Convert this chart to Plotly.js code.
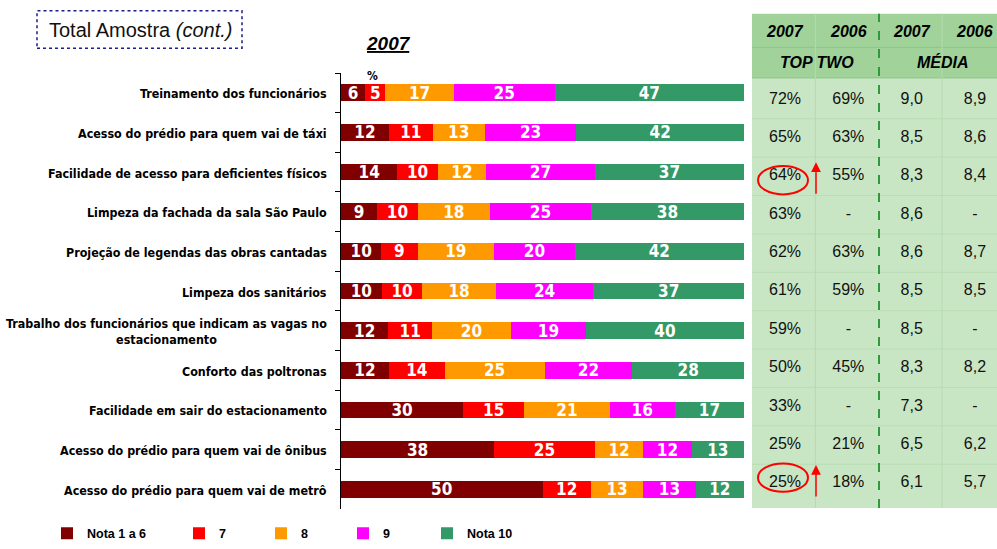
<!DOCTYPE html>
<html>
<head>
<meta charset="utf-8">
<script src="https://cdn.plot.ly/plotly-3.0.1.min.js"></script>
<style>html,body{margin:0;padding:0;background:#fff;}#chart{width:997px;height:549px;}</style>
</head>
<body>
<div id="chart"></div>
<script>
// ---- data ----
const categories = [
  "Treinamento dos funcionários",
  "Acesso do prédio para quem vai de táxi",
  "Facilidade de acesso para deficientes físicos",
  "Limpeza da fachada da sala São Paulo",
  "Projeção de legendas das obras cantadas",
  "Limpeza dos sanitários",
  "Trabalho dos funcionários que indicam as vagas no<br>estacionamento",
  "Conforto das poltronas",
  "Facilidade em sair do estacionamento",
  "Acesso do prédio para quem vai de ônibus",
  "Acesso do prédio para quem vai de metrô"
];
const seriesNames = ["Nota 1 a 6", "7", "8", "9", "Nota 10"];
const nota1a6 = [6, 12, 14, 9, 10, 10, 12, 12, 30, 38, 50];
const nota7   = [5, 11, 10, 10, 9, 10, 11, 14, 15, 25, 12];
const nota8   = [17, 13, 12, 18, 19, 18, 20, 25, 21, 12, 13];
const nota9   = [25, 23, 27, 25, 20, 24, 19, 22, 16, 12, 13];
const nota10  = [47, 42, 37, 38, 42, 37, 40, 28, 17, 13, 12];

const tableHeaderYears = ["2007", "2006", "2007", "2006"];
const tableHeaderGroups = ["TOP TWO", "MÉDIA"];
const topTwo2007 = ["72%", "65%", "64%", "63%", "62%", "61%", "59%", "50%", "33%", "25%", "25%"];
const topTwo2006 = ["69%", "63%", "55%", "-", "63%", "59%", "-", "45%", "-", "21%", "18%"];
const media2007  = ["9,0", "8,5", "8,3", "8,6", "8,6", "8,5", "8,5", "8,3", "7,3", "6,5", "6,1"];
const media2006  = ["8,9", "8,6", "8,4", "-", "8,7", "8,5", "-", "8,2", "-", "6,2", "5,7"];
const highlightRows = [2, 10];

// ---- styles ----
const colors = ["#800000", "#ff0000", "#ff9900", "#ff00ff", "#339966"];
const series = [nota1a6, nota7, nota8, nota9, nota10];
const condensed = "DejaVu Sans Condensed, DejaVu Sans";

const W = 997, H = 549;
const mL = 341, mR = 0, mT = 73, mB = 34;
const pw = W - mL - mR, ph = H - mT - mB;
const px2x = p => (p - mL) / pw;
const px2y = p => (H - mB - p) / ph;

const traces = series.map((vals, i) => ({
  type: "bar",
  orientation: "h",
  name: seriesNames[i],
  x: vals,
  y: categories,
  text: vals.map(String),
  texttemplate: "%{text}",
  textposition: "inside",
  insidetextanchor: "middle",
  textangle: 0,
  constraintext: "none",
  textfont: {family: condensed, size: 17, color: "#ffffff", weight: "bold"},
  marker: {color: colors[i], line: {width: 0}},
  xaxis: "x", yaxis: "y",
  legend: i === 0 ? "legend" : "legend" + (i + 1),
  hoverinfo: "skip"
}));

const tableCols = [topTwo2007, topTwo2006, media2007, media2006];
tableCols.forEach((col, ci) => {
  traces.push({
    type: "scatter",
    mode: "text",
    x: col.map(() => ci),
    y: categories,
    text: col,
    textposition: "middle center",
    textfont: {family: "Liberation Sans, Arial", size: 16, color: "#111"},
    xaxis: "x2", yaxis: "y2",
    showlegend: false,
    hoverinfo: "skip",
    cliponaxis: false
  });
});

// table geometry
const tabL = 752, tabR = 997, hdrTop = 13, hdrMid = 47, hdrBot = 78, bodyBot = 514;
const colPx0 = 785, colStep = 63.33;
const x2range = [(tabL - colPx0) / colStep, 3 + (tabR - (colPx0 + 3 * colStep)) / colStep];
const rowTopPx = 78.35, rowBotPx = 510.65;

const shapes = [];
shapes.push({type: "rect", xref: "paper", yref: "paper", x0: px2x(tabL), x1: px2x(tabR), y0: px2y(hdrBot), y1: px2y(hdrTop),
  fillcolor: "#a0d29a", line: {width: 0}, layer: "below"});
shapes.push({type: "rect", xref: "paper", yref: "paper", x0: px2x(tabL), x1: px2x(tabR), y0: px2y(bodyBot), y1: px2y(hdrBot),
  fillcolor: "#c9e6c4", line: {width: 0}, layer: "below"});
[hdrMid, hdrBot].forEach(p => shapes.push({type: "line", xref: "paper", yref: "paper", x0: px2x(tabL), x1: px2x(tabR), y0: px2y(p), y1: px2y(p),
  line: {color: "#8cc886", width: 1}, layer: "below"}));
for (let i = 0; i < categories.length - 1; i++) {
  shapes.push({type: "line", xref: "x2 domain", yref: "y2", x0: 0, x1: 1, y0: i + 0.5, y1: i + 0.5,
    line: {color: "#b9ddb3", width: 1}, layer: "below"});
}
[0.5, 2.5].forEach(v => shapes.push({type: "line", xref: "x2", yref: "paper", x0: v - 0.02, x1: v - 0.02, y0: px2y(bodyBot), y1: px2y(hdrTop),
  line: {color: "#b5dbaf", width: 1}, layer: "below"}));
shapes.push({type: "line", xref: "x2", yref: "paper", x0: (879 - colPx0) / colStep, x1: (879 - colPx0) / colStep, y0: px2y(bodyBot), y1: px2y(hdrTop),
  line: {color: "#2f9a3c", width: 2, dash: "dash"}, layer: "below"});
highlightRows.forEach((r, k) => {
  const off = k === 0 ? 0.1 : -0.15;
  shapes.push({type: "circle", xref: "x2", yref: "y2",
    x0: (758 - colPx0) / colStep, x1: (808 - colPx0) / colStep,
    y0: r + off - 0.37, y1: r + off + 0.37,
    line: {color: "#ff0000", width: 2}, fillcolor: "rgba(0,0,0,0)"});
});
shapes.push({type: "rect", xref: "paper", yref: "paper", x0: px2x(37), x1: px2x(242), y0: px2y(48), y1: px2y(10),
  line: {color: "#1c1c8a", width: 1.5, dash: "dot"}, fillcolor: "rgba(0,0,0,0)"});

const annotations = [];
categories.forEach(c => annotations.push({
  xref: "paper", yref: "y", x: px2x(329), y: c, xanchor: "right", yanchor: "middle", align: "center", yshift: -1,
  text: c, showarrow: false, font: {family: condensed, size: 12.4, color: "#000", weight: "bold"}
}));
tableHeaderYears.forEach((t, i) => annotations.push({
  xref: "x2", yref: "paper", x: i, y: px2y(31), text: "<b><i>" + t + "</i></b>", showarrow: false,
  font: {family: "Liberation Sans, Arial", size: 16, color: "#000"}, xanchor: "center", yanchor: "middle"
}));
tableHeaderGroups.forEach((t, i) => annotations.push({
  xref: "x2", yref: "paper", x: 0.5 + 2 * i, y: px2y(62), text: "<b><i>" + t + "</i></b>", showarrow: false,
  font: {family: "Liberation Sans, Arial", size: 16, color: "#000"}, xanchor: "center", yanchor: "middle"
}));
highlightRows.forEach((r, k) => {
  const headOff = k === 0 ? -0.37 : -0.48;
  annotations.push({xref: "x2", yref: "y2", x: (816 - colPx0) / colStep, y: r + headOff,
    ax: 0, ay: 33, text: "", showarrow: true, arrowhead: 2, arrowsize: 1.3, arrowwidth: 1.5, arrowcolor: "#ff0000"});
});
annotations.push({xref: "paper", yref: "paper", x: px2x(140), y: px2y(29), text: "Total Amostra <i>(cont.)</i>", showarrow: false,
  font: {family: "Liberation Sans, Arial", size: 20, color: "#111"}, xanchor: "center", yanchor: "middle"});
annotations.push({xref: "paper", yref: "paper", x: px2x(388), y: px2y(43), text: "<b><i>2007</i></b>", showarrow: false,
  font: {family: "Liberation Sans, Arial", size: 19, color: "#000", lineposition: "under"}, xanchor: "center", yanchor: "middle"});
annotations.push({xref: "paper", yref: "paper", x: px2x(372), y: px2y(76), text: "<b>%</b>", showarrow: false,
  font: {family: condensed, size: 12, color: "#000"}, xanchor: "center", yanchor: "middle"});

const legSquare = [76, 208, 290, 372, 456];
const legendBase = {orientation: "h", yanchor: "middle", xanchor: "left", y: px2y(540),
  font: {family: "Liberation Sans, Arial", size: 12.5, color: "#000", weight: "bold"}, bgcolor: "rgba(0,0,0,0)", borderwidth: 0};
const layout = {
  width: W, height: H,
  margin: {l: mL, r: mR, t: mT, b: mB, pad: 0},
  paper_bgcolor: "#fff", plot_bgcolor: "rgba(0,0,0,0)",
  barmode: "stack", barnorm: "percent", bargap: 0.58,
  showlegend: true,
  xaxis: {domain: [0, px2x(744)], range: [0, 100], visible: false, fixedrange: true},
  yaxis: {type: "category", autorange: "reversed", categoryorder: "array", categoryarray: categories,
    showticklabels: false, ticks: "outside", tickson: "boundaries", ticklen: 5, tickcolor: "#000",
    showline: true, linecolor: "#000", linewidth: 1, showgrid: false, zeroline: false, fixedrange: true},
  xaxis2: {domain: [px2x(tabL), 1], range: x2range, visible: false, anchor: "y2", fixedrange: true},
  yaxis2: {type: "category", domain: [px2y(rowBotPx), px2y(rowTopPx)], autorange: "reversed", categoryorder: "array",
    categoryarray: categories, visible: false, anchor: "x2", fixedrange: true},
  shapes: shapes,
  annotations: annotations,
  hovermode: false
};
legSquare.forEach((p, i) => {
  const key = i === 0 ? "legend" : "legend" + (i + 1);
  layout[key] = Object.assign({}, legendBase, {x: px2x(p - 29)});
});

Plotly.newPlot("chart", traces, layout, {displayModeBar: false, staticPlot: true});
</script>
</body>
</html>
